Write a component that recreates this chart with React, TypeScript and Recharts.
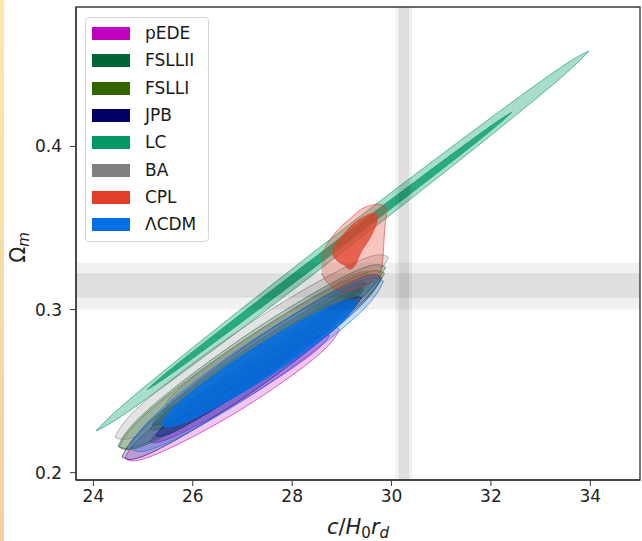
import React from 'react';
import { ComposedChart, Area, XAxis, YAxis, ReferenceArea, Legend } from 'recharts';

const X_DOMAIN: [number, number] = [23.65, 35];
const Y_DOMAIN: [number, number] = [0.1955, 0.4855];
const X_TICKS = [24, 26, 28, 30, 32, 34];
const Y_TICKS = [0.2, 0.3, 0.4];

const SERIES = ['pEDE', 'FSLLII', 'FSLLI', 'JPB', 'LC', 'BA', 'CPL', 'ΛCDM'];
const COLORS = ['#c000c0', '#006633', '#336600', '#000066', '#009966', '#808080', '#e0402a', '#0070e8'];

// contour edges, each row: [c/H0rd, lower Ωm, upper Ωm]
const PEDE_2S = [
  [24.637, 0.209, 0.209], [24.852, 0.2073, 0.2186], [25.5, 0.2145, 0.2351], [26.795, 0.2355, 0.2613],
  [28.09, 0.2617, 0.2823], [28.738, 0.2782, 0.2895], [28.954, 0.2878, 0.2878],
];
const PEDE_1S = [
  [25.139, 0.2189, 0.2189], [25.319, 0.2187, 0.2256], [25.861, 0.2255, 0.2383], [26.946, 0.2435, 0.2595],
  [28.03, 0.2646, 0.2774], [28.572, 0.2773, 0.2843], [28.753, 0.2841, 0.2841],
];
const FSLLII_2S = [
  [24.496, 0.2164, 0.2164], [24.765, 0.2152, 0.2286], [25.572, 0.226, 0.2506], [27.187, 0.2558, 0.2865],
  [28.801, 0.2917, 0.3163], [29.608, 0.3137, 0.3271], [29.877, 0.3259, 0.3259],
];
const FSLLII_1S = [
  [25.179, 0.2293, 0.2293], [25.394, 0.2302, 0.2372], [26.038, 0.2403, 0.2531], [27.327, 0.2647, 0.2807],
  [28.616, 0.2923, 0.3051], [29.261, 0.3082, 0.3152], [29.476, 0.3161, 0.3161],
];
const FSLLI_2S = [
  [24.516, 0.2158, 0.2158], [24.783, 0.2144, 0.2278], [25.584, 0.2248, 0.2494], [27.187, 0.2536, 0.2844],
  [28.789, 0.2886, 0.3132], [29.59, 0.3102, 0.3236], [29.857, 0.3222, 0.3222],
];
const FSLLI_1S = [
  [25.139, 0.2263, 0.2263], [25.353, 0.2271, 0.2341], [25.998, 0.2371, 0.2499], [27.287, 0.2613, 0.2773],
  [28.576, 0.2887, 0.3015], [29.221, 0.3046, 0.3115], [29.436, 0.3124, 0.3124],
];
const JPB_2S = [
  [24.576, 0.2097, 0.2097], [24.837, 0.2085, 0.2219], [25.62, 0.2194, 0.244], [27.187, 0.2493, 0.2801],
  [28.753, 0.2854, 0.31], [29.536, 0.3075, 0.3209], [29.797, 0.3197, 0.3197],
];
const JPB_1S = [
  [25.259, 0.2226, 0.2226], [25.466, 0.2231, 0.2306], [26.086, 0.2327, 0.2464], [27.327, 0.2564, 0.2736],
  [28.568, 0.2836, 0.2974], [29.189, 0.2994, 0.3069], [29.395, 0.3074, 0.3074],
];
const LC_2S = [
  [24.054, 0.2256, 0.2256], [24.55, 0.2343, 0.2402], [26.038, 0.2668, 0.2776], [29.014, 0.3353, 0.3489],
  [31.99, 0.4066, 0.4174], [33.478, 0.444, 0.4499], [33.974, 0.4586, 0.4586],
];
const LC_1S = [
  [25.078, 0.2508, 0.2508], [25.446, 0.258, 0.2607], [26.548, 0.2824, 0.2873], [28.753, 0.3329, 0.339],
  [30.958, 0.3846, 0.3895], [32.06, 0.4112, 0.4139], [32.428, 0.4211, 0.4211],
];
const BA_2S = [
  [24.436, 0.2219, 0.2219], [24.711, 0.2208, 0.2341], [25.536, 0.2317, 0.2562], [27.187, 0.2616, 0.2924],
  [28.837, 0.2977, 0.3223], [29.663, 0.3198, 0.3332], [29.938, 0.332, 0.332],
];
const BA_1S = [
  [25.44, 0.2416, 0.2416], [25.646, 0.2422, 0.2492], [26.263, 0.2516, 0.2644], [27.498, 0.2745, 0.2905],
  [28.733, 0.3007, 0.3135], [29.35, 0.3159, 0.3228], [29.556, 0.3234, 0.3234],
];
const CPL_2S = [
  [28.592, 0.3222, 0.332], [28.673, 0.3179, 0.3382], [28.813, 0.3136, 0.345], [29.014, 0.3111, 0.3517],
  [29.195, 0.3117, 0.3566], [29.395, 0.3136, 0.3616], [29.596, 0.3167, 0.364], [29.757, 0.321, 0.3646],
  [29.817, 0.3284, 0.364], [29.867, 0.3505, 0.3634], [29.904, 0.3585, 0.3616],
];
const CPL_1S = [
  [28.813, 0.3333, 0.337], [28.914, 0.3296, 0.3419], [29.054, 0.3271, 0.3468], [29.155, 0.3247, 0.3505],
  [29.275, 0.3277, 0.3536], [29.395, 0.3357, 0.356], [29.516, 0.3413, 0.3579], [29.636, 0.348, 0.3591],
  [29.717, 0.3542, 0.3579],
];
const LCDM_2S = [
  [24.737, 0.2152, 0.2152], [24.992, 0.2131, 0.2275], [25.757, 0.2223, 0.2489], [27.287, 0.2496, 0.2828],
  [28.817, 0.2836, 0.3101], [29.582, 0.3049, 0.3194], [29.837, 0.3173, 0.3173],
];
const LCDM_1S = [
  [25.359, 0.2293, 0.2293], [25.557, 0.228, 0.2382], [26.151, 0.235, 0.2537], [27.337, 0.2552, 0.2785],
  [28.524, 0.28, 0.2987], [29.117, 0.2955, 0.3057], [29.315, 0.3044, 0.3044],
];

// external bands
const RD_BAND_2S = [30.08, 30.41];
const RD_BAND_1S = [30.16, 30.34];
const OM_BAND_2S = [0.3, 0.3287];
const OM_BAND_1S = [0.3076, 0.3219];

const CONTOURS = [
  [PEDE_2S, PEDE_1S],
  [FSLLII_2S, FSLLII_1S],
  [FSLLI_2S, FSLLI_1S],
  [JPB_2S, JPB_1S],
  [LC_2S, LC_1S],
  [BA_2S, BA_1S],
  [CPL_2S, CPL_1S],
  [LCDM_2S, LCDM_1S],
];

const toRows = (rows: number[][]) => rows.map(([x, lo, hi]) => ({ x, band: [lo, hi] }));

const FONT = 'DejaVu Sans';

const renderXLabel = (props: any) => {
  const vb = props.viewBox || { x: 76, y: 480, width: 564, height: 61 };
  const cx = vb.x + vb.width / 2;
  const y = vb.y + 54;
  return (
    <text x={cx} y={y} textAnchor="middle" fontFamily={FONT} fontSize={21} fill="#222">
      <tspan fontStyle="italic">c</tspan>
      <tspan>/</tspan>
      <tspan fontStyle="italic">H</tspan>
      <tspan fontSize={15} dy={4}>0</tspan>
      <tspan fontStyle="italic" dy={-4}>r</tspan>
      <tspan fontStyle="italic" fontSize={15} dy={4}>d</tspan>
    </text>
  );
};

const renderYLabel = (props: any) => {
  const vb = props.viewBox || { x: 0, y: 7, width: 76, height: 473 };
  const x = vb.x + 25;
  const y = vb.y + vb.height / 2 + 4;
  return (
    <text x={x} y={y} textAnchor="middle" fontFamily={FONT} fontSize={21} fill="#222" transform={`rotate(-90 ${x} ${y})`}>
      <tspan>Ω</tspan>
      <tspan fontStyle="italic" fontSize={15} dy={4}>m</tspan>
    </text>
  );
};

const renderLegend = () => (
  <div
    style={{
      boxSizing: 'border-box',
      width: 124,
      height: 225,
      border: '1px solid #d6d6d6',
      borderRadius: 4,
      background: 'rgba(255,255,255,0.85)',
      paddingTop: 2,
      fontFamily: FONT,
      fontSize: 17,
      color: '#1a1a1a',
    }}
  >
    {SERIES.map((name, i) => (
      <div key={name} style={{ display: 'flex', alignItems: 'center', height: 27.3 }}>
        <div style={{ width: 38, height: 13, marginLeft: 6, background: COLORS[i], flex: 'none' }} />
        <span style={{ marginLeft: 15, lineHeight: '17px' }}>{name}</span>
      </div>
    ))}
  </div>
);

export default function App() {
  const areas: React.ReactNode[] = [];
  CONTOURS.forEach(([outer, inner], i) => {
    const color = COLORS[i];
    const name = SERIES[i];
    const isLCDM = name === 'ΛCDM';
    const isCPL = name === 'CPL';
    const isLC = name === 'LC';
    areas.push(
      <Area
        key={`${name}-2s`}
        data={toRows(outer)}
        dataKey="band"
        type={isCPL ? 'monotone' : 'natural'}
        stroke={color}
        strokeWidth={1}
        strokeOpacity={0.6}
        fill={color}
        fillOpacity={isLC ? 0.34 : isCPL ? 0.3 : 0.22}
        dot={false}
        activeDot={false}
        legendType="none"
        isAnimationActive={false}
      />
    );
    areas.push(
      <Area
        key={`${name}-1s`}
        data={toRows(inner)}
        dataKey="band"
        type={isCPL ? 'monotone' : 'natural'}
        stroke={color}
        strokeWidth={1}
        strokeOpacity={0.6}
        fill={color}
        fillOpacity={isLCDM ? 0.8 : isLC || isCPL ? 0.75 : 0.35}
        dot={false}
        activeDot={false}
        legendType="none"
        isAnimationActive={false}
      />
    );
  });

  return (
    <div style={{ position: 'absolute', left: 0, top: 0, width: 642, height: 541, background: '#fff', overflow: 'hidden' }}>
      <div
        style={{
          position: 'absolute',
          left: 0,
          top: 0,
          width: 4,
          height: 541,
          background: 'linear-gradient(#fde9a9, #f5cfa0)',
          zIndex: 2,
        }}
      />
      <ComposedChart width={642} height={541} margin={{ top: 7, right: 2, bottom: 0, left: 0 }}>
        <XAxis
          type="number"
          dataKey="x"
          domain={X_DOMAIN}
          ticks={X_TICKS}
          allowDataOverflow
          interval={0}
          height={61}
          tickSize={6}
          tickMargin={4}
          axisLine={{ stroke: '#3a3a3a', strokeWidth: 1.4 }}
          tickLine={{ stroke: '#3a3a3a', strokeWidth: 1 }}
          tick={{ fill: '#222', fontSize: 17, fontFamily: FONT }}
          label={renderXLabel}
        />
        <YAxis
          type="number"
          domain={Y_DOMAIN}
          ticks={Y_TICKS}
          allowDataOverflow
          interval={0}
          width={76}
          tickSize={6}
          tickMargin={8}
          tickFormatter={(v: number) => v.toFixed(1)}
          axisLine={{ stroke: '#3a3a3a', strokeWidth: 1.4 }}
          tickLine={{ stroke: '#3a3a3a', strokeWidth: 1 }}
          tick={{ fill: '#222', fontSize: 17, fontFamily: FONT }}
          label={renderYLabel}
        />
        {areas}
        <ReferenceArea x1={RD_BAND_2S[0]} x2={RD_BAND_2S[1]} fill="#000" fillOpacity={0.06} stroke="none" ifOverflow="hidden" />
        <ReferenceArea x1={RD_BAND_1S[0]} x2={RD_BAND_1S[1]} fill="#000" fillOpacity={0.07} stroke="#000" strokeOpacity={0.05} ifOverflow="hidden" />
        <ReferenceArea y1={OM_BAND_2S[0]} y2={OM_BAND_2S[1]} fill="#000" fillOpacity={0.06} stroke="none" ifOverflow="hidden" />
        <ReferenceArea y1={OM_BAND_1S[0]} y2={OM_BAND_1S[1]} fill="#000" fillOpacity={0.07} stroke="#000" strokeOpacity={0.05} ifOverflow="hidden" />
        <ReferenceArea
          x1={X_DOMAIN[0]}
          x2={X_DOMAIN[1]}
          y1={Y_DOMAIN[0]}
          y2={Y_DOMAIN[1]}
          fill="none"
          stroke="#3a3a3a"
          strokeWidth={1.4}
          ifOverflow="visible"
        />
        <Legend
          layout="vertical"
          align="center"
          verticalAlign="middle"
          content={renderLegend}
          wrapperStyle={{ left: 85, top: 17, width: 124, height: 225 }}
        />
      </ComposedChart>
    </div>
  );
}
